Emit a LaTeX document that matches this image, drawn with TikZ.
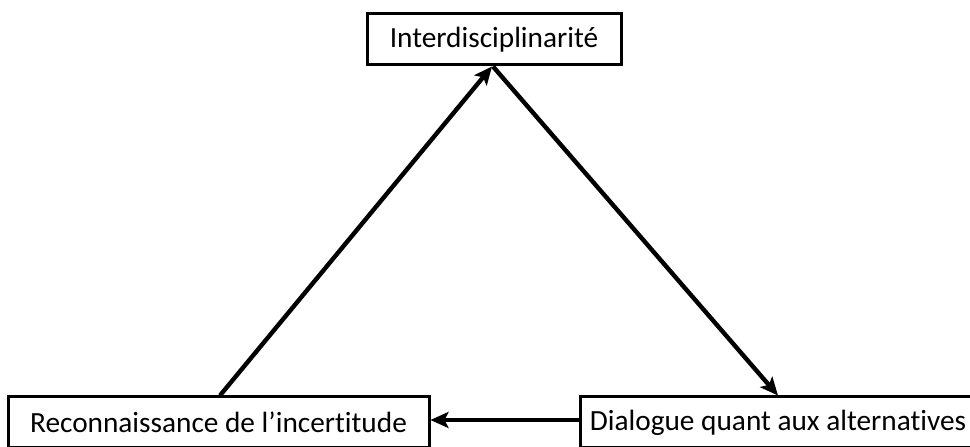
\documentclass[tikz,border=0pt]{standalone}
\usepackage{fontspec}
\setmainfont[Ligatures=NoCommon]{Carlito}
\usetikzlibrary{arrows.meta}

\tikzset{
  box/.style={draw, line width=3pt, minimum height=51pt, inner sep=0pt,
              font=\fontsize{29.3}{33}\selectfont},
  arr/.style={line width=4.4pt, -{Stealth[length=18pt,width=16pt,inset=4pt]}}
}

\begin{document}
\begin{tikzpicture}[x=1pt,y=1pt]
  % page frame, the boxes at the bottom run off it
  \useasboundingbox (0,0) rectangle (970,447);
  \clip (0,0) rectangle (970,447);

  % boxes
  \node[box, minimum width=254pt] (inter) at (494,407.5) {Interdisciplinarité};
  \node[box, minimum width=421pt] (incert) at (218.5,24.5) {Reconnaissance de l’incertitude};
  \node[box, minimum width=396pt] (dial) at (778,24.5) {Dialogue quant aux alternatives};

  % arrows
  \draw[arr] ([xshift=1.5pt]incert.north) -- ([xshift=-2pt]inter.south);
  \draw[arr] ([xshift=-1pt]inter.south) -- (dial.north);
  \draw[arr] ([yshift=2.5pt]dial.west) -- ([yshift=2.5pt]incert.east);
\end{tikzpicture}
\end{document}
